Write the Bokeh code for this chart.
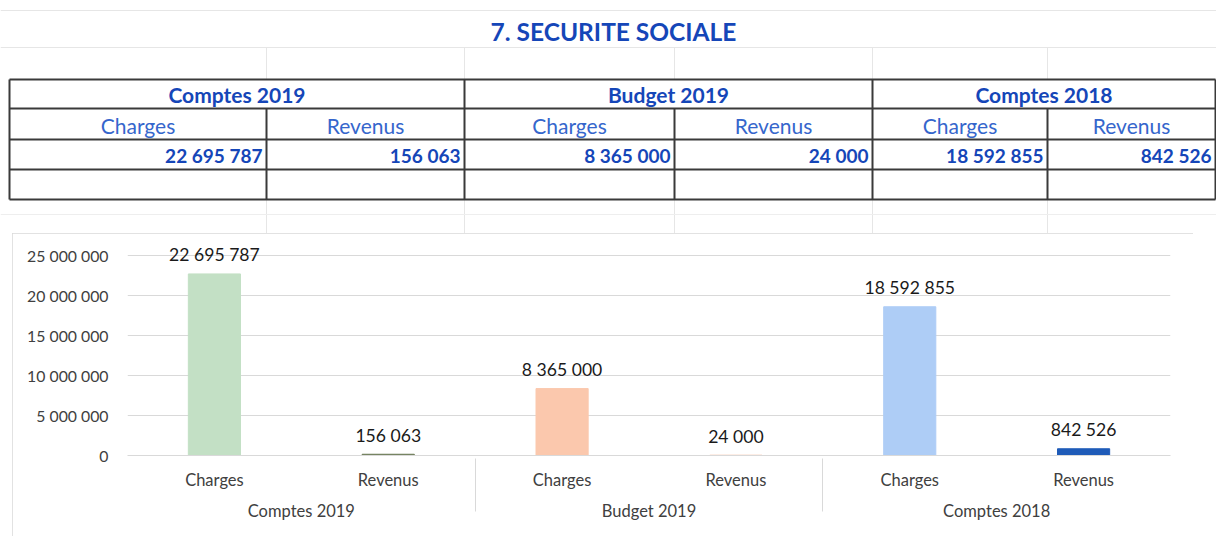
from bokeh.plotting import figure
from bokeh.models import (Range1d, FactorRange, ColumnDataSource, FixedTicker,
                          CustomJSTickFormatter, Spacer)
from bokeh.layouts import column, row
from bokeh.core.properties import value
from bokeh.embed import file_html
from bokeh.resources import INLINE

# ---------------- data ----------------
title_text = "7. SECURITE SOCIALE"
groups = ["Comptes 2019", "Budget 2019", "Comptes 2018"]
kinds = ["Charges", "Revenus"]
amounts = [22695787, 156063, 8365000, 24000, 18592855, 842526]
bar_colors = ["#C3E0C5", "#6E7C58", "#FBC8AD", "#F2A57E", "#AECDF6", "#1F5BB8"]
y_ticks = [0, 5000000, 10000000, 15000000, 20000000, 25000000]


def fmt(v):
    return f"{v:,}".replace(",", " ")


FONT = value("Lato")
BLUE_BOLD = "#1546B8"
BLUE_REG = "#3566CC"

# ---------------- top: title + table ----------------
top = figure(width=1216, height=233, x_range=Range1d(0, 1216), y_range=Range1d(233, 0),
             output_backend="svg", toolbar_location=None, min_border=0,
             x_axis_location=None, y_axis_location=None)
top.grid.visible = False
top.outline_line_color = None

cols = [9, 266, 464, 674, 872, 1047, 1215]
rows_y = [79, 108, 139, 169, 199]

# faint spreadsheet lines
top.segment(x0=[0, 0], y0=[10, 47], x1=[1216, 1216], y1=[10, 47], line_color="#E6E6E6", line_width=1)
top.segment(x0=cols[1:-1], y0=[47] * 5, x1=cols[1:-1], y1=[79] * 5, line_color="#E6E6E6", line_width=1)
top.segment(x0=cols[1:-1], y0=[199] * 5, x1=cols[1:-1], y1=[233] * 5, line_color="#E6E6E6", line_width=1)
top.segment(x0=[0], y0=[214], x1=[1216], y1=[214], line_color="#EEEEEE", line_width=1)

# table grid
top.segment(x0=[cols[0]] * 5, y0=rows_y, x1=[cols[-1]] * 5, y1=rows_y, line_color="#3A3A3A", line_width=2)
top.segment(x0=[cols[0], cols[2], cols[4], cols[6]], y0=[rows_y[0]] * 4,
            x1=[cols[0], cols[2], cols[4], cols[6]], y1=[rows_y[-1]] * 4,
            line_color="#3A3A3A", line_width=2)
top.segment(x0=[cols[1], cols[3], cols[5]], y0=[rows_y[1]] * 3,
            x1=[cols[1], cols[3], cols[5]], y1=[rows_y[-1]] * 3,
            line_color="#3A3A3A", line_width=2)

top.text(x=[613], y=[31], text=[title_text], text_align="center", text_baseline="middle",
         text_font=FONT, text_font_style="bold", text_font_size="24.5px", text_color=BLUE_BOLD)

gx = [(cols[2 * i] + cols[2 * i + 2]) / 2 for i in range(3)]
top.text(x=gx, y=[94] * 3, text=groups, text_align="center", text_baseline="middle",
         text_font=FONT, text_font_style="bold", text_font_size="21px", text_color=BLUE_BOLD)

sx = [(cols[i] + cols[i + 1]) / 2 for i in range(6)]
top.text(x=sx, y=[125] * 6, text=kinds * 3, text_align="center", text_baseline="middle",
         text_font=FONT, text_font_size="21px", text_color=BLUE_REG)

vx = [cols[i + 1] - 4 for i in range(6)]
top.text(x=vx, y=[155] * 6, text=[fmt(a) for a in amounts], text_align="right", text_baseline="middle",
         text_font=FONT, text_font_style="bold", text_font_size="19px", text_color=BLUE_BOLD)

# ---------------- bottom: chart ----------------
factors = [(g, k) for g in groups for k in kinds]
src = ColumnDataSource(dict(x=factors, amount=amounts, color=bar_colors,
                            label=[fmt(a) for a in amounts]))

chart = figure(width=1181, height=303,
               x_range=FactorRange(*factors, group_padding=0, factor_padding=0, range_padding=0),
               y_range=Range1d(0, 26875000),
               output_backend="svg", toolbar_location=None,
               min_border_left=115, min_border_right=23, min_border_top=7, min_border_bottom=81,
               styles={"outline": "1px solid #D9D9D9", "outline-offset": "-1px"})
chart.outline_line_color = None
chart.xgrid.visible = False
chart.ygrid.ticker = FixedTicker(ticks=y_ticks)
chart.ygrid.grid_line_color = "#D9D9D9"

chart.vbar(x="x", top="amount", width=0.3, color="color", source=src)
chart.text(x="x", y="amount", text="label", source=src, text_align="center", text_baseline="middle",
           y_offset=-19, text_font=FONT, text_font_size="17.6px", text_color="#1A1A1A")

ya = chart.yaxis[0]
ya.ticker = FixedTicker(ticks=y_ticks)
ya.formatter = CustomJSTickFormatter(code="return tick.toFixed(0).replace(/\\B(?=(\\d{3})+(?!\\d))/g, ' ');")
ya.axis_line_color = None
ya.major_tick_line_color = None
ya.minor_tick_line_color = None
ya.major_label_standoff = 13
ya.major_label_text_font = "Lato"
ya.major_label_text_font_size = "15.8px"
ya.major_label_text_color = "#404040"

xa = chart.xaxis[0]
xa.axis_line_color = "#D9D9D9"
xa.major_tick_line_color = None
xa.minor_tick_line_color = None
xa.major_label_standoff = 8
xa.major_label_text_font = "Lato"
xa.major_label_text_font_size = "16.5px"
xa.major_label_text_color = "#404040"
xa.group_text_font = "Lato"
xa.group_text_font_size = "16.5px"
xa.group_text_font_style = "normal"
xa.group_text_color = "#404040"
xa.separator_line_color = "#D9D9D9"
xa.separator_line_width = 1

layout = column(top, row(Spacer(width=12, height=303), chart))

open("out.html", "w").write(file_html(layout, INLINE))
